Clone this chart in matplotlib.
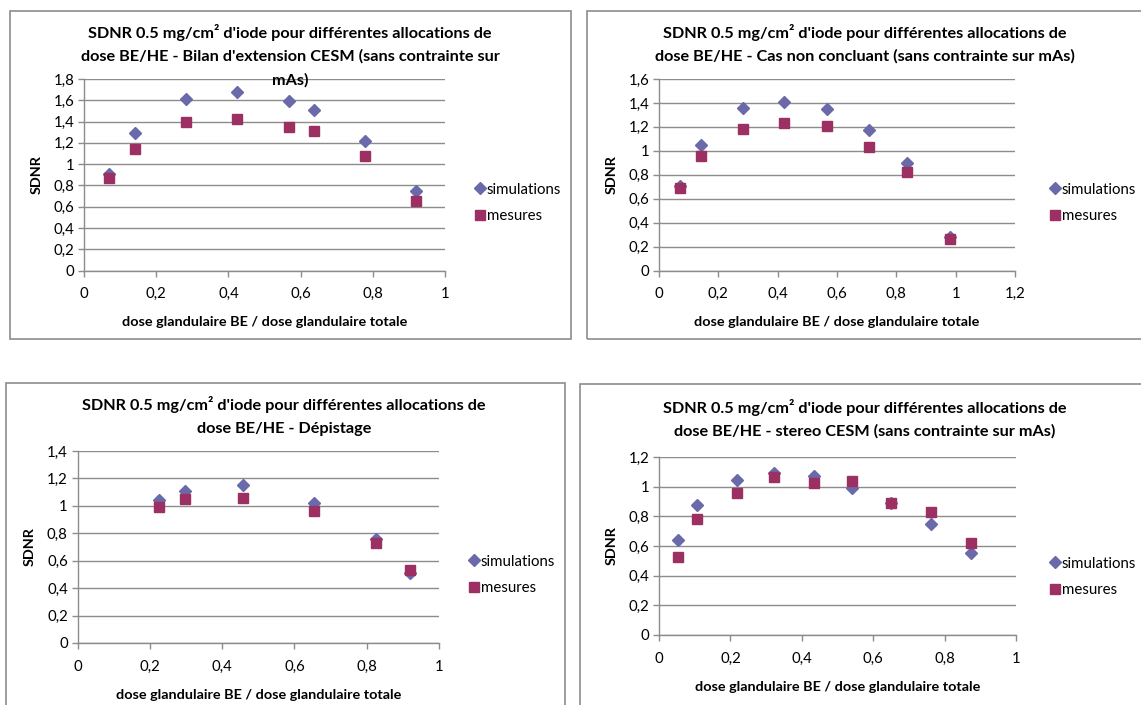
import matplotlib
matplotlib.use("Agg")
import matplotlib.pyplot as plt
from matplotlib.patches import Rectangle
from matplotlib.ticker import MultipleLocator, FuncFormatter

plt.rcParams['font.family'] = ['Lato', 'DejaVu Sans']

W, H = 1141, 705

# ---- data ----
title_prefix = "SDNR 0.5 mg/cm² d'iode pour différentes allocations de"
titles = [
    title_prefix + "\ndose BE/HE - Bilan d'extension CESM (sans contrainte sur\nmAs)",
    title_prefix + "\ndose BE/HE - Cas non concluant (sans contrainte sur mAs)",
    title_prefix + "\ndose BE/HE - Dépistage",
    title_prefix + "\ndose BE/HE - stereo CESM (sans contrainte sur mAs)",
]
xlabel = "dose glandulaire BE / dose glandulaire totale"
ylabel = "SDNR"
series_names = ["simulations", "mesures"]

x1 = [0.07, 0.14, 0.283, 0.425, 0.567, 0.636, 0.779, 0.92]
sim1 = [0.91, 1.29, 1.61, 1.68, 1.59, 1.51, 1.22, 0.75]
mes1 = [0.87, 1.14, 1.40, 1.42, 1.35, 1.31, 1.08, 0.65]

x2 = [0.07, 0.142, 0.283, 0.423, 0.567, 0.709, 0.837, 0.98]
sim2 = [0.71, 1.05, 1.36, 1.41, 1.35, 1.17, 0.90, 0.28]
mes2 = [0.69, 0.96, 1.18, 1.235, 1.21, 1.03, 0.82, 0.26]

x3 = [0.226, 0.296, 0.458, 0.653, 0.825, 0.92]
sim3 = [1.04, 1.11, 1.15, 1.02, 0.76, 0.51]
mes3 = [0.99, 1.05, 1.06, 0.965, 0.73, 0.53]

x4 = [0.054, 0.107, 0.218, 0.322, 0.433, 0.54, 0.65, 0.762, 0.873]
sim4 = [0.64, 0.875, 1.045, 1.09, 1.07, 0.99, 0.89, 0.75, 0.555]
mes4 = [0.525, 0.785, 0.96, 1.065, 1.027, 1.04, 0.89, 0.83, 0.618]

xmax = [1.0, 1.2, 1.0, 1.0]
ymax = [1.8, 1.6, 1.4, 1.2]

# ---- layout (pixels) ----
boxes = [(10, 11, 571, 339), (587, 11, 1146, 339), (6, 383, 565, 710), (580, 384, 1146, 710)]
plots = [(84, 79, 445, 270.5), (659, 79, 1015, 270.5), (77.5, 451, 439, 643), (659, 457, 1016, 635)]
title_x = [290, 865, 284, 865]
title_y0 = [31, 31, 403, 406]
title_step = 24
legend_pos = [(475, 203), (1050, 203), (469, 575), (1050, 577)]

SIM_C = '#6a6aaa'
MES_C = '#9c3063'
GRID_C = '#8c8c8c'

fig = plt.figure(figsize=(W / 100, H / 100), dpi=100)
fig.patch.set_facecolor('white')


def fmt(v, pos):
    if abs(v - round(v)) < 1e-9:
        return str(int(round(v)))
    return ("%.1f" % v).replace('.', ',')


datasets = [(x1, sim1, mes1), (x2, sim2, mes2), (x3, sim3, mes3), (x4, sim4, mes4)]

for i in range(4):
    bx0, by0, bx1, by1 = boxes[i]
    fig.add_artist(Rectangle((bx0 / W, 1 - by1 / H), (bx1 - bx0) / W, (by1 - by0) / H,
                             transform=fig.transFigure, fill=False, ec=GRID_C, lw=1.2))
    px0, py0, px1, py1 = plots[i]
    ax = fig.add_axes([px0 / W, 1 - py1 / H, (px1 - px0) / W, (py1 - py0) / H])
    xs, sim, mes = datasets[i]
    hs, = ax.plot(xs, sim, linestyle='none', marker='D', ms=6.6, color=SIM_C, mec=SIM_C, zorder=3)
    hm, = ax.plot(xs, mes, linestyle='none', marker='s', ms=7.8, color=MES_C, mec=MES_C, zorder=4)
    ax.set_xlim(0, xmax[i])
    ax.set_ylim(0, ymax[i])
    ax.xaxis.set_major_locator(MultipleLocator(0.2))
    ax.yaxis.set_major_locator(MultipleLocator(0.2))
    ax.xaxis.set_major_formatter(FuncFormatter(fmt))
    ax.yaxis.set_major_formatter(FuncFormatter(fmt))
    ax.grid(axis='y', color=GRID_C, lw=1.0)
    ax.set_axisbelow(True)
    for s in ['top', 'right']:
        ax.spines[s].set_visible(False)
    for s in ['left', 'bottom']:
        ax.spines[s].set_color(GRID_C)
        ax.spines[s].set_linewidth(1.0)
    ax.tick_params(axis='both', direction='out', length=4, width=1.0, color=GRID_C,
                   labelsize=10.8, labelcolor='black')
    ax.tick_params(axis='x', pad=8)
    ax.tick_params(axis='y', pad=3)
    ax.set_xlabel(xlabel, fontsize=10.4, fontweight='bold', labelpad=11)
    ax.set_ylabel(ylabel, fontsize=10.4, fontweight='bold', labelpad=8)
    for k, line in enumerate(titles[i].split("\n")):
        fig.text(title_x[i] / W, 1 - (title_y0[i] + k * title_step) / H, line,
                 ha='center', va='center_baseline', fontsize=11.7, fontweight='bold')
    lx, ly = legend_pos[i]
    fig.legend([hs, hm], series_names, loc='center left',
               bbox_to_anchor=(lx / W, 1 - ly / H), bbox_transform=fig.transFigure,
               frameon=False, fontsize=10.8, handlelength=0.6, handletextpad=0.2,
               labelspacing=0.85, borderpad=0, borderaxespad=0)

fig.savefig('out.png', dpi=100, facecolor='white')
